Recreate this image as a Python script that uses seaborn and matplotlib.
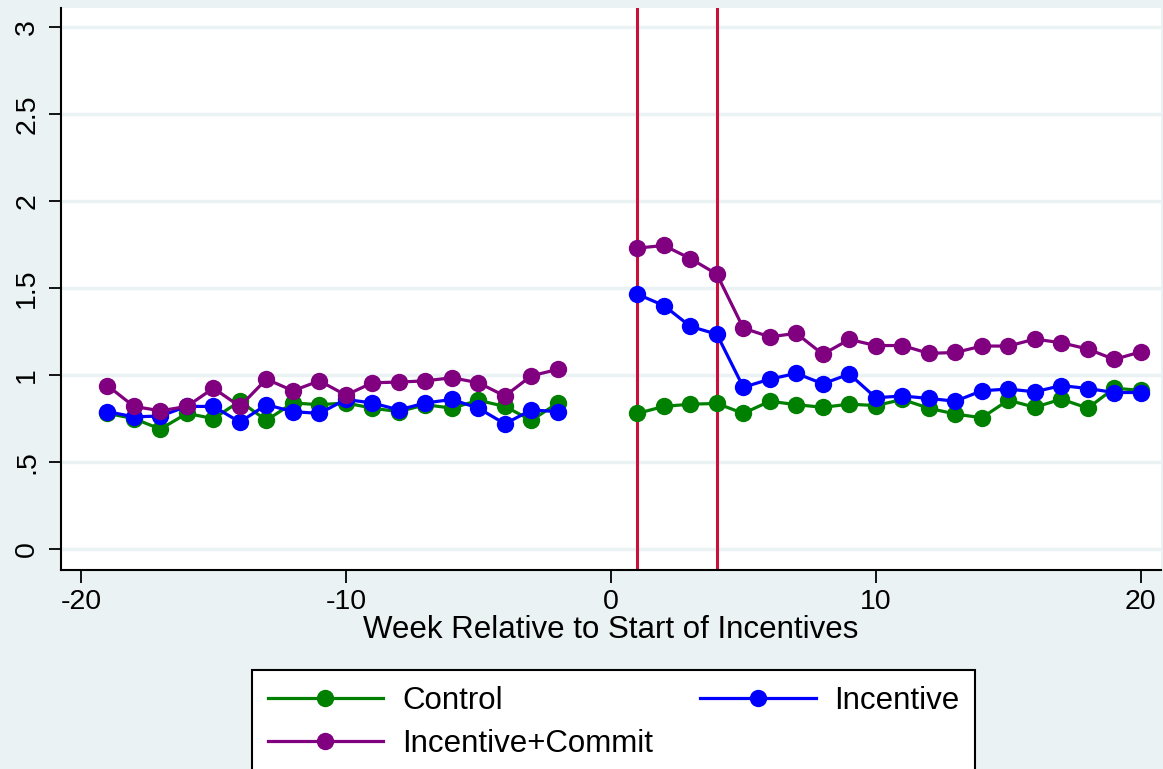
import numpy as np
import pandas as pd
import seaborn as sns
import matplotlib.pyplot as plt

# Weeks relative to the start of incentives (weeks -1 and 0 are missing)
weeks_pre = list(range(-19, -1))
weeks_post = list(range(1, 21))

control_pre = [0.78, 0.75, 0.69, 0.78, 0.75, 0.85, 0.74, 0.84, 0.83, 0.84,
               0.81, 0.79, 0.83, 0.81, 0.855, 0.82, 0.74, 0.84]
incentive_pre = [0.79, 0.76, 0.765, 0.82, 0.82, 0.73, 0.83, 0.79, 0.78, 0.86,
                 0.84, 0.80, 0.84, 0.86, 0.81, 0.72, 0.80, 0.79]
commit_pre = [0.94, 0.82, 0.795, 0.82, 0.925, 0.82, 0.977, 0.91, 0.967, 0.885,
              0.956, 0.96, 0.967, 0.985, 0.956, 0.88, 0.996, 1.033]

control_post = [0.78, 0.82, 0.833, 0.837, 0.78, 0.85, 0.83, 0.815, 0.833, 0.825,
                0.86, 0.81, 0.776, 0.755, 0.856, 0.815, 0.862, 0.81, 0.925, 0.912]
incentive_post = [1.465, 1.40, 1.28, 1.235, 0.93, 0.977, 1.01, 0.95, 1.006, 0.87,
                  0.88, 0.866, 0.85, 0.91, 0.92, 0.904, 0.94, 0.923, 0.90, 0.90]
commit_post = [1.73, 1.745, 1.67, 1.58, 1.27, 1.22, 1.24, 1.12, 1.205, 1.17,
               1.17, 1.125, 1.13, 1.167, 1.167, 1.207, 1.186, 1.15, 1.09, 1.134]

groups = ['Control', 'Incentive', 'Incentive+Commit']
colors = ['#008000', '#0000FF', '#800080']
event_weeks = [1, 4]

yticks = [0, 0.5, 1, 1.5, 2, 2.5, 3]
ytick_labels = ['0', '.5', '1', '1.5', '2', '2.5', '3']
xticks = [-20, -10, 0, 10, 20]

# Long table, one "period" per contiguous segment so the gap stays open
rows = []
for g, pre, post in zip(groups,
                        [control_pre, incentive_pre, commit_pre],
                        [control_post, incentive_post, commit_post]):
    for w, v in zip(weeks_pre, pre):
        rows.append((g, 'pre', w, v))
    for w, v in zip(weeks_post, post):
        rows.append((g, 'post', w, v))
df = pd.DataFrame(rows, columns=['group', 'period', 'week', 'visits'])

bg = '#EAF2F3'
plt.rcParams['font.family'] = ['Liberation Sans', 'DejaVu Sans']

fig = plt.figure(figsize=(11.63, 7.69), dpi=100, facecolor=bg)
ax = fig.add_axes([0.0525, 0.2588, 0.9455, 0.7308])
ax.set_facecolor('white')

for y in yticks:
    ax.axhline(y, color=bg, linewidth=2.5, zorder=0)

for w in event_weeks:
    ax.axvline(w, color='#C8103A', linewidth=2.2, zorder=1)

sns.lineplot(data=df, x='week', y='visits', hue='group', units='period',
             estimator=None, hue_order=groups, palette=colors, marker='o',
             markersize=12.5, markeredgewidth=0, linewidth=2.3, ax=ax, zorder=3)

ax.set_xlim(-20.75, 20.75)
ax.set_ylim(-0.12, 3.11)
ax.set_xticks(xticks)
ax.set_xticklabels([str(x) for x in xticks], fontsize=20.5)
ax.set_yticks(yticks)
ax.set_yticklabels(ytick_labels, fontsize=20.5, rotation=90, va='center')
ax.tick_params(axis='both', direction='out', length=9, width=1.3, color='black')
ax.tick_params(axis='x', pad=5)
ax.tick_params(axis='y', pad=6)
ax.set_xlabel('Week Relative to Start of Incentives', fontsize=22.5, labelpad=0)
ax.set_ylabel('')

for side in ['top', 'right']:
    ax.spines[side].set_visible(False)
for side in ['left', 'bottom']:
    ax.spines[side].set_linewidth(1.5)
    ax.spines[side].set_color('black')

# legend filled row by row: Control, Incentive / Incentive+Commit
handles, labels = ax.get_legend_handles_labels()
ax.legend_.remove()
order = [0, 2, 1]
leg = fig.legend([handles[i] for i in order], [labels[i] for i in order],
                 loc='upper left', bbox_to_anchor=(252 / 1163, 1 - 670 / 769),
                 ncol=2, fontsize=22.5, handlelength=3.7, handletextpad=0.6,
                 columnspacing=1.5, borderpad=0.5, labelspacing=0.42,
                 fancybox=False, frameon=True, framealpha=1, borderaxespad=0)
leg.get_frame().set_edgecolor('black')
leg.get_frame().set_linewidth(1.5)
leg.get_frame().set_facecolor('white')

fig.savefig('out.png', dpi=100, facecolor=bg)
